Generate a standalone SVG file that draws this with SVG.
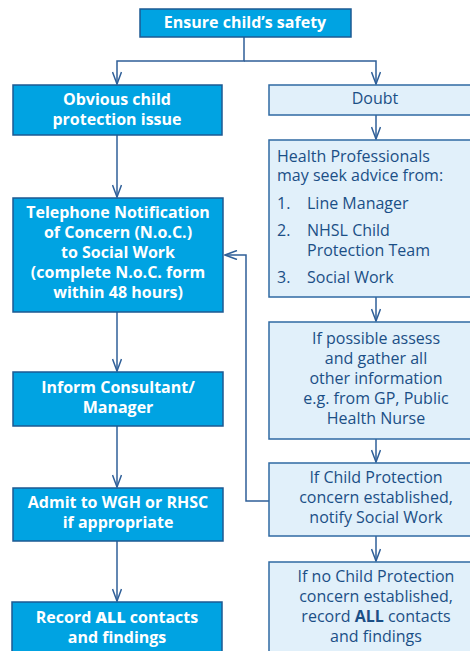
<svg xmlns="http://www.w3.org/2000/svg" width="470" height="651" viewBox="0 0 470 651">
<defs>
<style>
.dk{fill:#00a3e2;stroke:#1d5a92;stroke-width:1.5}
.lt{fill:#e1f0fa;stroke:#2f6aa3;stroke-width:1.5}
.tw{font-family:"Open Sans","Liberation Sans",sans-serif;font-size:16px;font-weight:bold;fill:#ffffff;text-anchor:middle}
.tb{font-family:"Open Sans","Liberation Sans",sans-serif;font-size:16px;fill:#1b4f86;text-anchor:middle}
.tl{font-family:"Open Sans","Liberation Sans",sans-serif;font-size:16px;fill:#1b4f86}
.ln{fill:none;stroke:#2f5f98;stroke-width:1.5}
</style>
<marker id="ah" viewBox="0 0 14 10" refX="13" refY="5" markerWidth="14" markerHeight="10" markerUnits="userSpaceOnUse" orient="auto">
<path d="M1,0.5 L13,5 L1,9.5" fill="none" stroke="#2f5f98" stroke-width="1.5"/>
</marker>
</defs>
<rect width="470" height="651" fill="#ffffff"/>
<g id="connectors">
<path class="ln" d="M244,37 V61 H117 V84" marker-end="url(#ah)"/>
<path class="ln" d="M244,61 H376 V84" marker-end="url(#ah)"/>
<path class="ln" d="M117,135 V197" marker-end="url(#ah)"/>
<path class="ln" d="M376,115 V139" marker-end="url(#ah)"/>
<path class="ln" d="M117,312 V371" marker-end="url(#ah)"/>
<path class="ln" d="M376,297 V321" marker-end="url(#ah)"/>
<path class="ln" d="M117,426 V487" marker-end="url(#ah)"/>
<path class="ln" d="M376,439 V462" marker-end="url(#ah)"/>
<path class="ln" d="M117,541 V601" marker-end="url(#ah)"/>
<path class="ln" d="M376,536 V561" marker-end="url(#ah)"/>
<path class="ln" d="M269,501 H246 V255 H225" marker-end="url(#ah)"/>
</g>
<g id="n_safety">
<rect class="dk" x="140" y="9" width="211" height="28"/>
<text class="tw" x="245" y="28">Ensure child’s safety</text>
</g>
<g id="n_obvious">
<rect class="dk" x="13" y="85" width="209" height="50"/>
<text class="tw" x="117" y="105">Obvious child</text>
<text class="tw" x="117" y="125">protection issue</text>
</g>
<g id="n_doubt">
<rect class="lt" x="269" y="85" width="205" height="30"/>
<text class="tb" x="375" y="104">Doubt</text>
</g>
<g id="n_health">
<rect class="lt" x="269" y="140" width="205" height="157"/>
<text class="tl" x="277" y="162">Health Professionals</text>
<text class="tl" x="277" y="181">may seek advice from:</text>
<text class="tl" x="277" y="209">1.</text>
<text class="tl" x="307" y="209">Line Manager</text>
<text class="tl" x="277" y="236">2.</text>
<text class="tl" x="307" y="236">NHSL Child</text>
<text class="tl" x="307" y="256">Protection Team</text>
<text class="tl" x="277" y="283">3.</text>
<text class="tl" x="307" y="283">Social Work</text>
</g>
<g id="n_telephone">
<rect class="dk" x="13" y="198" width="210" height="114"/>
<text class="tw" x="118" y="218">Telephone Notification</text>
<text class="tw" x="118" y="238">of Concern (N.o.C.)</text>
<text class="tw" x="118" y="258">to Social Work</text>
<text class="tw" x="118" y="278">(complete N.o.C. form</text>
<text class="tw" x="118" y="298">within 48 hours)</text>
</g>
<g id="n_assess">
<rect class="lt" x="269" y="322" width="205" height="117"/>
<text class="tb" x="376" y="344">If possible assess</text>
<text class="tb" x="376" y="364">and gather all</text>
<text class="tb" x="376" y="384">other information</text>
<text class="tb" x="376" y="404">e.g. from GP, Public</text>
<text class="tb" x="376" y="424">Health Nurse</text>
</g>
<g id="n_inform">
<rect class="dk" x="13" y="372" width="210" height="54"/>
<text class="tw" x="118" y="393">Inform Consultant/</text>
<text class="tw" x="118" y="413">Manager</text>
</g>
<g id="n_cp">
<rect class="lt" x="269" y="463" width="205" height="73"/>
<text class="tb" x="376" y="483">If Child Protection</text>
<text class="tb" x="376" y="503">concern established,</text>
<text class="tb" x="376" y="523">notify Social Work</text>
</g>
<g id="n_admit">
<rect class="dk" x="13" y="488" width="210" height="53"/>
<text class="tw" x="118" y="508">Admit to WGH or RHSC</text>
<text class="tw" x="118" y="528">if appropriate</text>
</g>
<g id="n_record">
<rect class="dk" x="12" y="602" width="210" height="60"/>
<text class="tw" x="117" y="623">Record <tspan font-weight="900">ALL</tspan> contacts</text>
<text class="tw" x="117" y="643">and findings</text>
</g>
<g id="n_nocp">
<rect class="lt" x="269" y="562" width="205" height="100"/>
<text class="tb" x="376" y="582">If no Child Protection</text>
<text class="tb" x="376" y="602">concern established,</text>
<text class="tb" x="376" y="622">record <tspan font-weight="bold">ALL</tspan> contacts</text>
<text class="tb" x="376" y="642">and findings</text>
</g>
</svg>
